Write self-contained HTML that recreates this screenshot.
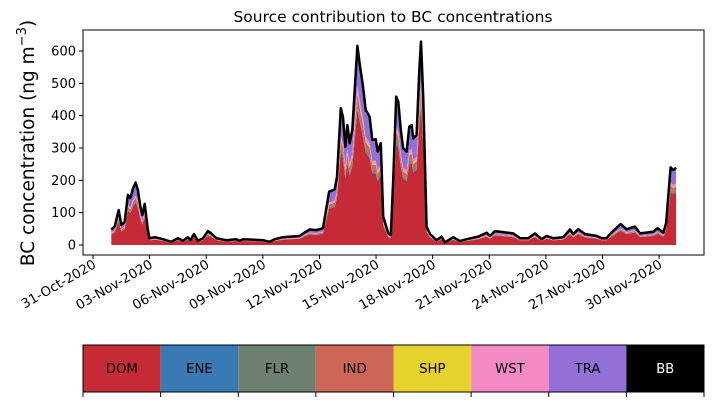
<!DOCTYPE html>
<html><head><meta charset="utf-8">
<style>
body{margin:0;background:#fff;width:713px;height:402px;overflow:hidden;font-family:"Liberation Sans","DejaVu Sans",sans-serif}
svg text{font-family:"DejaVu Sans","Liberation Sans",sans-serif}
</style></head>
<body>
<svg id="chart" width="713" height="402" viewBox="0 0 713 402" xmlns="http://www.w3.org/2000/svg">
<text x="393" y="22" font-size="15.5" text-anchor="middle">Source contribution to BC concentrations</text>
<text transform="translate(34,143) rotate(-90)" font-size="18.5" text-anchor="middle">BC concentration (ng m<tspan dy="-8" font-size="13">−3</tspan><tspan dy="8">)</tspan></text>
<g id="plot"></g>
<g id="legend"></g>
</svg>
<script>
const days=[0.97,1.15,1.36,1.50,1.68,1.85,1.98,2.12,2.26,2.38,2.51,2.61,2.74,2.91,3.00,3.27,3.71,4.15,4.50,4.77,5.03,5.16,5.35,5.56,5.83,6.09,6.27,6.53,7.06,7.59,7.77,7.95,9.01,9.36,9.63,10.07,10.95,11.22,11.48,11.83,12.19,12.51,12.81,12.93,13.13,13.25,13.37,13.48,13.60,13.74,13.87,14.01,14.13,14.31,14.45,14.66,14.80,14.98,15.09,15.25,15.38,15.65,15.78,15.91,16.07,16.18,16.31,16.44,16.62,16.76,16.89,16.97,17.15,17.29,17.38,17.50,17.68,17.86,18.21,18.48,18.65,19.09,19.45,19.80,20.42,20.86,21.04,21.30,22.27,22.63,23.07,23.42,23.78,24.04,24.39,24.92,25.28,25.45,25.72,26.07,26.69,26.96,27.22,27.40,27.96,28.28,28.72,28.99,29.69,29.92,30.22,30.37,30.61,30.75,30.90];
const total=[48,57,108,62,72,155,145,175,193,170,118,93,127,46,21,24,18,10,21,13,24,15,34,13,21,43,36,21,15,18,13,18,15,10,18,24,28,39,48,46,52,165,172,211,423,395,304,371,315,356,479,616,562,490,418,397,325,327,289,315,88,36,31,201,459,443,356,299,289,366,371,330,340,541,629,459,57,34,15,26,8,24,12,18,26,38,28,43,36,21,21,36,18,28,21,24,48,34,49,34,28,21,21,34,65,49,57,36,41,52,38,67,240,232,239];
const seriesNames=["DOM","ENE","FLR","IND","SHP","WST","TRA","BB"];
const seriesShares=[0.68,0.01,0.02,0.05,0.01,0.03,0.20,0.0];
const colors=["#c52a36","#3a7ab4","#6e8170","#cd6657","#e6d22c","#f38ac4","#9270d8","#000000"];
const yTicks=[0,100,200,300,400,500,600];
const xTickDays=[0,3,6,9,12,15,18,21,24,27,30];
const xTickLabels=["31-Oct-2020","03-Nov-2020","06-Nov-2020","09-Nov-2020","12-Nov-2020","15-Nov-2020","18-Nov-2020","21-Nov-2020","24-Nov-2020","27-Nov-2020","30-Nov-2020"];

const NS="http://www.w3.org/2000/svg";
const L=83,R=704,T=30,B=255;
const xs=d=>93+d*18.87;
const ys=v=>245-v*0.3233;
const plot=document.getElementById('plot');
function mk(tag,attrs,parent){const e=document.createElementNS(NS,tag);for(const k in attrs)e.setAttribute(k,attrs[k]);parent.appendChild(e);return e;}
const N=Math.min(days.length,total.length);
const D=days.slice(0,N), V=total.slice(0,N);
let base=D.map(()=>0);
for(let s=0;s<7;s++){
  const top=base.map((b,i)=>b+V[i]*seriesShares[s]);
  let d="M"+D.map((t,i)=>xs(t).toFixed(1)+","+ys(top[i]).toFixed(1)).join("L");
  for(let i=N-1;i>=0;i--)d+="L"+xs(D[i]).toFixed(1)+","+ys(base[i]).toFixed(1);
  const p=mk('path',{d:d+"Z",fill:colors[s]},plot);
  
  
  base=top;
}
const line=mk('polyline',{points:D.map((t,i)=>xs(t).toFixed(1)+","+ys(V[i]).toFixed(1)).join(" "),fill:"none",stroke:"#000","stroke-width":2.5,"stroke-linejoin":"round"},plot);


const frame=mk('rect',{x:L,y:T,width:R-L,height:B-T,fill:"none",stroke:"#000","stroke-width":1},plot);


yTicks.forEach(v=>{
  const y=ys(v);
  const tk=mk('line',{x1:L-4,x2:L,y1:y,y2:y,stroke:"#000"},plot);
  
  
  const tx=mk('text',{x:L-7,y:y+4.5,"font-size":13,"text-anchor":"end"},plot);
  tx.textContent=v;
  
  
});
xTickDays.forEach((d,i)=>{
  const x=xs(d);
  const tk=mk('line',{x1:x,x2:x,y1:B,y2:B+4,stroke:"#000"},plot);
  
  
  const tx=mk('text',{transform:`translate(${x+4},${B+12}) rotate(-30)`,"font-size":13.3,"text-anchor":"end"},plot);
  tx.textContent=xTickLabels[i];
  
  
});
const lg=document.getElementById('legend');


const w=(R-L)/8;
seriesNames.forEach((n,i)=>{
  const r=mk('rect',{x:L+i*w,y:345,width:w,height:47,fill:colors[i]},lg);
  
  
  const t=mk('text',{x:L+i*w+w/2,y:373,"font-size":13.3,"text-anchor":"middle",fill:n==="BB"?"#fff":"#000"},lg);
  t.textContent=n;
  
  
});
for(let i=0;i<=8;i++){
  const tk=mk('line',{x1:L+i*w,x2:L+i*w,y1:392,y2:397,stroke:"#000"},lg);
  
  
}
const lf=mk('rect',{x:L,y:345,width:R-L,height:47,fill:"none",stroke:"#000"},lg);


</script>
</body></html>
